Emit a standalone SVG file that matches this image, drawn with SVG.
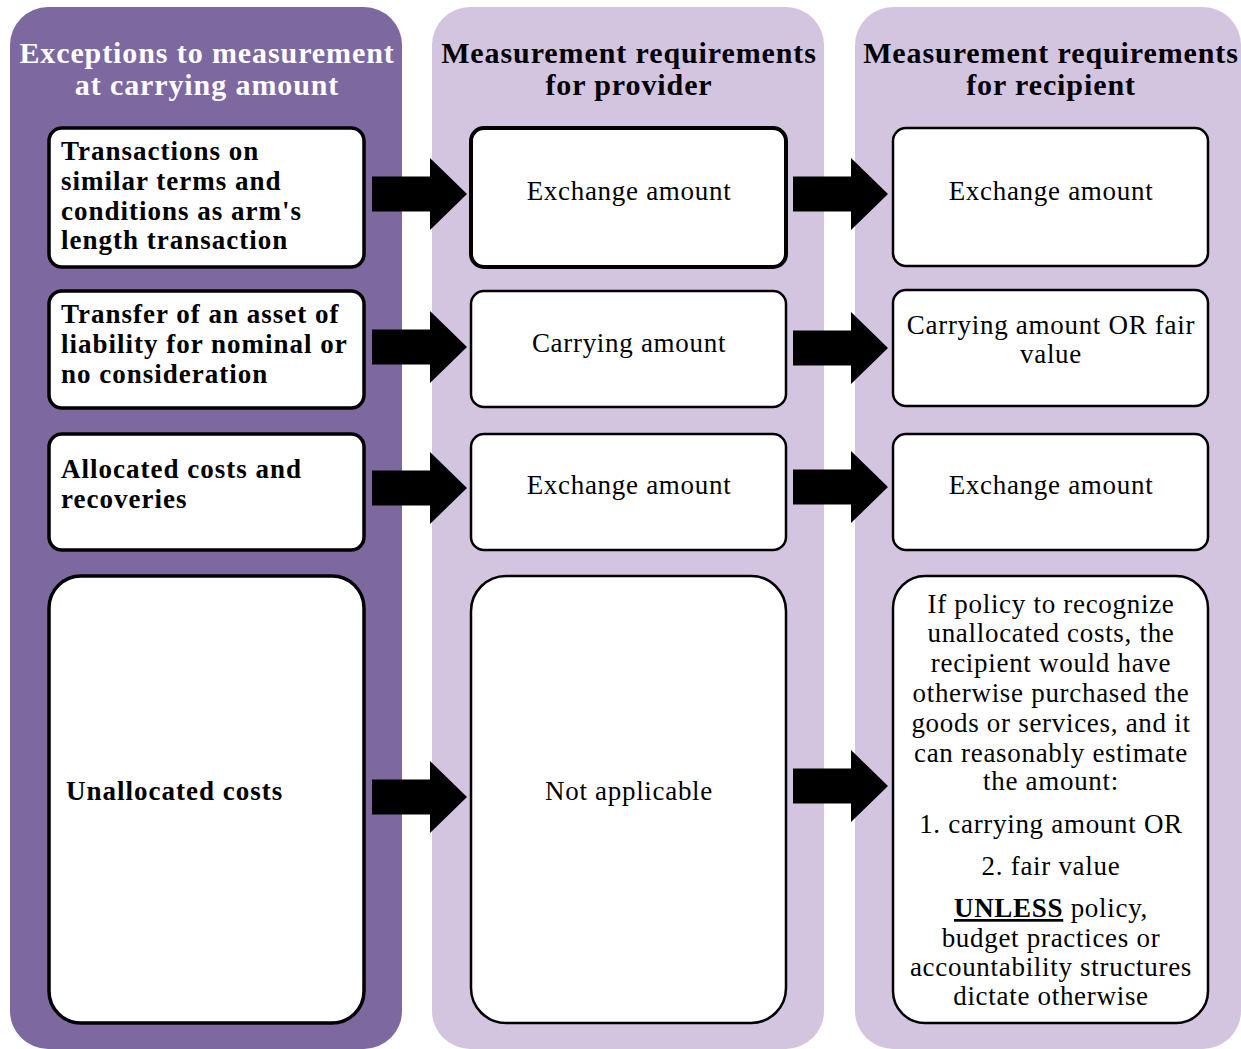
<svg xmlns="http://www.w3.org/2000/svg" width="1241" height="1049" viewBox="0 0 1241 1049">
<style>
.pd{fill:#7D68A0}
.pl{fill:#D3C5E0}
.box{fill:#fff;stroke:#000;stroke-width:3}
.hw{font-family:"Liberation Serif","Times New Roman",serif;font-weight:bold;font-size:30px;letter-spacing:0.9px;fill:#fff;text-anchor:middle}
.hb{font-family:"Liberation Serif","Times New Roman",serif;font-weight:bold;font-size:30px;letter-spacing:0.9px;fill:#000;text-anchor:middle}
.lb{font-family:"Liberation Serif","Times New Roman",serif;font-weight:bold;font-size:27px;letter-spacing:1px;fill:#000}
.t{font-family:"Liberation Serif","Times New Roman",serif;font-size:27px;letter-spacing:0.7px;fill:#000;text-anchor:middle}
.arr{fill:#000}
</style>
<defs>
<path id="arrow" d="M0,-17.5 H58 V-36 L95,0 L58,36 V17.5 H0 Z"/>
</defs>
<rect width="1241" height="1049" fill="#fff"/>
<g id="panel-exceptions">
<rect class="pd" x="10" y="7" width="392" height="1042" rx="38"/>
<text class="hw" x="207" y="63">Exceptions to measurement</text>
<text class="hw" x="207" y="95">at carrying amount</text>
</g>
<g id="panel-provider">
<rect class="pl" x="432" y="7" width="392" height="1042" rx="38"/>
<text class="hb" x="629" y="63">Measurement requirements</text>
<text class="hb" x="629" y="95">for provider</text>
</g>
<g id="panel-recipient">
<rect class="pl" x="855" y="7" width="386" height="1042" rx="38"/>
<text class="hb" x="1051" y="63">Measurement requirements</text>
<text class="hb" x="1051" y="95">for recipient</text>
</g>
<g id="ex1">
<rect class="box" x="49" y="128" width="315" height="139" rx="13" style="stroke-width:3.5"/>
<text class="lb" x="61" y="160">Transactions on</text>
<text class="lb" x="61" y="190">similar terms and</text>
<text class="lb" x="61" y="220">conditions as arm's</text>
<text class="lb" x="61" y="249">length transaction</text>
</g>
<g id="ex2">
<rect class="box" x="49" y="291" width="315" height="117" rx="13" style="stroke-width:3.5"/>
<text class="lb" x="61" y="323">Transfer of an asset of</text>
<text class="lb" x="61" y="353">liability for nominal or</text>
<text class="lb" x="61" y="383">no consideration</text>
</g>
<g id="ex3">
<rect class="box" x="49" y="434" width="315" height="116" rx="13" style="stroke-width:3.5"/>
<text class="lb" x="61" y="478">Allocated costs and</text>
<text class="lb" x="61" y="508">recoveries</text>
</g>
<g id="ex4">
<rect class="box" x="49" y="576" width="315" height="447" rx="32" style="stroke-width:3.5"/>
<text class="lb" x="66" y="800">Unallocated costs</text>
</g>
<g id="pr1">
<rect class="box" x="471" y="128" width="315" height="139" rx="13" style="stroke-width:4"/>
<text class="t" x="629" y="200">Exchange amount</text>
</g>
<g id="pr2">
<rect class="box" x="471" y="291" width="315" height="116" rx="13" style="stroke-width:2.5"/>
<text class="t" x="629" y="352">Carrying amount</text>
</g>
<g id="pr3">
<rect class="box" x="471" y="434" width="315" height="116" rx="13" style="stroke-width:2.5"/>
<text class="t" x="629" y="494">Exchange amount</text>
</g>
<g id="pr4">
<rect class="box" x="471" y="576" width="315" height="447" rx="35" style="stroke-width:2.5"/>
<text class="t" x="629" y="800">Not applicable</text>
</g>
<g id="re1">
<rect class="box" x="893" y="128" width="315" height="138" rx="13" style="stroke-width:2.5"/>
<text class="t" x="1051" y="200">Exchange amount</text>
</g>
<g id="re2">
<rect class="box" x="893" y="290" width="315" height="116" rx="13" style="stroke-width:2.5"/>
<text class="t" x="1051" y="334">Carrying amount OR fair</text>
<text class="t" x="1051" y="363">value</text>
</g>
<g id="re3">
<rect class="box" x="893" y="434" width="315" height="116" rx="13" style="stroke-width:2.5"/>
<text class="t" x="1051" y="494">Exchange amount</text>
</g>
<g id="re4">
<rect class="box" x="893" y="576" width="315" height="447" rx="32" style="stroke-width:2.5"/>
<text class="t" x="1051" y="613">If policy to recognize</text>
<text class="t" x="1051" y="642">unallocated costs, the</text>
<text class="t" x="1051" y="672">recipient would have</text>
<text class="t" x="1051" y="702">otherwise purchased the</text>
<text class="t" x="1051" y="732">goods or services, and it</text>
<text class="t" x="1051" y="762">can reasonably estimate</text>
<text class="t" x="1051" y="790">the amount:</text>
<text class="t" x="1051" y="833">1. carrying amount OR</text>
<text class="t" x="1051" y="875">2. fair value</text>
<text class="t" x="1051" y="917"><tspan font-weight="bold" text-decoration="underline">UNLESS</tspan> policy,</text>
<text class="t" x="1051" y="947">budget practices or</text>
<text class="t" x="1051" y="976">accountability structures</text>
<text class="t" x="1051" y="1005">dictate otherwise</text>
</g>
<g id="connectors" class="arr">
<use href="#arrow" x="372" y="194"/>
<use href="#arrow" x="372" y="347"/>
<use href="#arrow" x="372" y="488"/>
<use href="#arrow" x="372" y="797"/>
<use href="#arrow" x="793" y="194"/>
<use href="#arrow" x="793" y="348"/>
<use href="#arrow" x="793" y="487"/>
<use href="#arrow" x="793" y="786"/>
</g>
</svg>
